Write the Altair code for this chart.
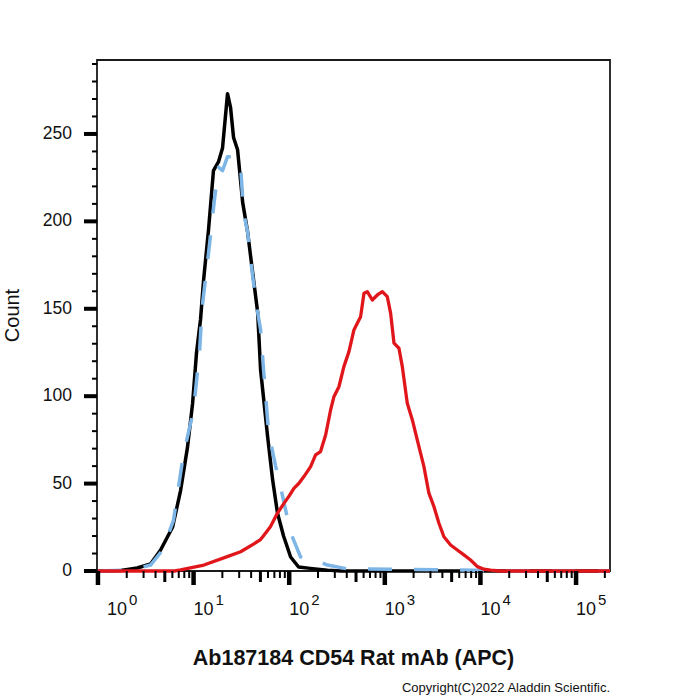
import altair as alt
import pandas as pd

# Fluorescence positions are stored as log10(intensity); counts per bin.
black_x = [0.0, 0.24, 0.41, 0.55, 0.655, 0.78, 0.864, 0.937, 0.99, 1.031, 1.073, 1.104,
           1.156, 1.208, 1.26, 1.303, 1.355, 1.387, 1.418, 1.46, 1.513, 1.565, 1.617,
           1.67, 1.701, 1.774, 1.827, 1.878, 1.941, 2.015, 2.098, 2.22, 2.40, 2.54, 5.355]
black_y = [0, 0.3, 1.7, 4, 12, 25, 46, 71, 96, 125, 144, 166,
           195, 229, 234, 242, 273, 265, 248, 241, 211, 194, 171,
           148, 115, 77, 52, 33, 20, 8, 2.3, 1.5, 0.5, 0, 0]

blue_x = [0.0, 0.34, 0.55, 0.676, 0.79, 0.895, 1.0, 1.063, 1.09, 1.157, 1.209, 1.26,
          1.303, 1.355, 1.43, 1.49, 1.523, 1.565, 1.617, 1.67, 1.701, 1.732, 1.785,
          1.858, 1.91, 2.015, 2.119, 2.223, 2.33, 2.40, 2.61, 3.166, 3.95, 4.1, 5.355]
blue_y = [0, 0.5, 3.4, 12, 29, 67, 92, 126, 151, 182, 208, 231,
          229, 237, 237, 233, 205, 194, 169, 148, 138, 115, 79,
          60, 48, 22, 8, 5, 5, 3.4, 1.2, 1, 0.5, 0, 0]

red_x = [0.0, 0.80, 0.864, 1.108, 1.352, 1.492, 1.631, 1.70, 1.736, 1.805, 1.876, 1.945,
         2.0, 2.049, 2.102, 2.154, 2.224, 2.276, 2.328, 2.381, 2.433, 2.468, 2.52,
         2.572, 2.625, 2.677, 2.712, 2.747, 2.782, 2.817, 2.869, 2.922, 2.974, 3.026,
         3.061, 3.096, 3.148, 3.183, 3.235, 3.288, 3.34, 3.409, 3.461, 3.514, 3.566,
         3.618, 3.688, 3.758, 3.827, 3.897, 3.968, 4.037, 4.107, 4.2, 5.355]
red_y = [0, 0, 0.6, 3.4, 8.2, 11, 15.5, 18, 20.5, 25.5, 33, 38.7,
         43, 47.3, 50.2, 54, 59.7, 66.4, 68.3, 77.8, 92.1, 99.7, 105.4,
         116.9, 125.5, 137.9, 141.7, 145.5, 158.9, 159.8, 155, 157.9, 159.8, 156.9,
         147.4, 130.3, 127.4, 116.9, 95.9, 86.4, 74.9, 59.7, 44.5, 36.8, 27.3,
         19.6, 14.9, 12, 9.2, 6.3, 2.5, 1, 0.5, 0, 0]

y_major = [0, 50, 100, 150, 200, 250]
y_minor = [v for v in range(10, 300, 10) if v % 50 != 0]
decades = [0, 1, 2, 3, 4, 5]
decade_labels = ["10", "10", "10", "10", "10", "10"]
exponents = ["0", "1", "2", "3", "4", "5"]
x_mid = [d + 0.69897 for d in range(5)]
x_minor = [d + m for d in range(6) for m in
           (0.30103, 0.47712, 0.60206, 0.77815, 0.84510, 0.90309, 0.95424)
           if d + m <= 5.355]

W, H = 513, 511
FONT = "Liberation Sans"
xscale = alt.Scale(domain=[-0.01, 5.355], nice=False, zero=False)
yscale = alt.Scale(domain=[0, 292.3], nice=False, zero=False)


def curve(xs, ys, color, width, dash=None):
    df = pd.DataFrame({"log_fl": xs, "count": ys})
    opts = dict(color=color, strokeWidth=width, strokeJoin="round", strokeCap="butt")
    if dash:
        opts["strokeDash"] = dash
    return alt.Chart(df).mark_line(**opts).encode(
        x=alt.X("log_fl:Q", scale=xscale, axis=None),
        y=alt.Y("count:Q", scale=yscale, axis=None),
    )


def xticks(pos, length, width):
    return alt.Chart(pd.DataFrame({"pos": pos})).mark_rule(
        color="black", strokeWidth=width, strokeCap="butt"
    ).encode(
        x=alt.X("pos:Q", scale=xscale, axis=None),
        y=alt.value(H), y2=alt.value(H + length),
    )


def yticks(vals, length, width):
    return alt.Chart(pd.DataFrame({"val": vals})).mark_rule(
        color="black", strokeWidth=width, strokeCap="butt"
    ).encode(
        y=alt.Y("val:Q", scale=yscale, axis=None),
        x=alt.value(-length), x2=alt.value(0),
    )


ylabels = alt.Chart(pd.DataFrame({"val": y_major, "lab": [str(v) for v in y_major]})).mark_text(
    align="right", baseline="middle", fontSize=17.5, font=FONT, color="#111"
).encode(y=alt.Y("val:Q", scale=yscale, axis=None), x=alt.value(-25), text="lab:N")

xlab_df = pd.DataFrame({"pos": decades, "base": decade_labels, "exp": exponents})


def xlabels(df, shift):
    base = alt.Chart(df).mark_text(
        align="left", baseline="alphabetic", fontSize=18, font=FONT, color="#111", dx=shift
    ).encode(x=alt.X("pos:Q", scale=xscale, axis=None), y=alt.value(H + 44), text="base:N")
    exp = alt.Chart(df).mark_text(
        align="left", baseline="alphabetic", fontSize=15, font=FONT, color="#111", dx=shift + 22
    ).encode(x=alt.X("pos:Q", scale=xscale, axis=None), y=alt.value(H + 34), text="exp:N")
    return base + exp


ytitle = alt.Chart(pd.DataFrame({"t": ["Count"]})).mark_text(
    angle=270, align="center", baseline="middle", fontSize=20, font=FONT, color="#111"
).encode(x=alt.value(-84), y=alt.value(H / 2), text="t:N")

xtitle = alt.Chart(pd.DataFrame({"t": ["Ab187184 CD54 Rat mAb (APC)"]})).mark_text(
    align="center", baseline="alphabetic", fontSize=21.5, fontWeight="bold", font=FONT, color="#111"
).encode(x=alt.value(W / 2), y=alt.value(H + 94), text="t:N")

credit = alt.Chart(pd.DataFrame({"t": ["Copyright(C)2022 Aladdin Scientific."]})).mark_text(
    align="right", baseline="alphabetic", fontSize=13, font=FONT, color="#111"
).encode(x=alt.value(W), y=alt.value(H + 121), text="t:N")

chart = alt.layer(
    curve(black_x, black_y, "#000000", 3.5),
    curve(blue_x, blue_y, "#7db6e6", 3.5, [24, 22]),
    curve(red_x, red_y, "#e0161b", 3.3),
    xticks(decades, 14, 4.5),
    xticks(x_mid, 11, 3),
    xticks(x_minor, 7, 2),
    yticks(y_major, 13, 4),
    yticks(y_minor, 5, 2),
    ylabels,
    xlabels(xlab_df[xlab_df.pos == 0], 9),
    xlabels(xlab_df[xlab_df.pos > 0], 0),
    ytitle, xtitle, credit,
).properties(
    width=W, height=H,
    autosize=alt.AutoSizeParams(type="none"),
    padding={"left": 97, "top": 60, "right": 90, "bottom": 129},
    background="white",
).configure_view(stroke="#1a1a1a", strokeWidth=1.8)

chart.save("out.html", embed_options={"renderer": "svg", "actions": False})
